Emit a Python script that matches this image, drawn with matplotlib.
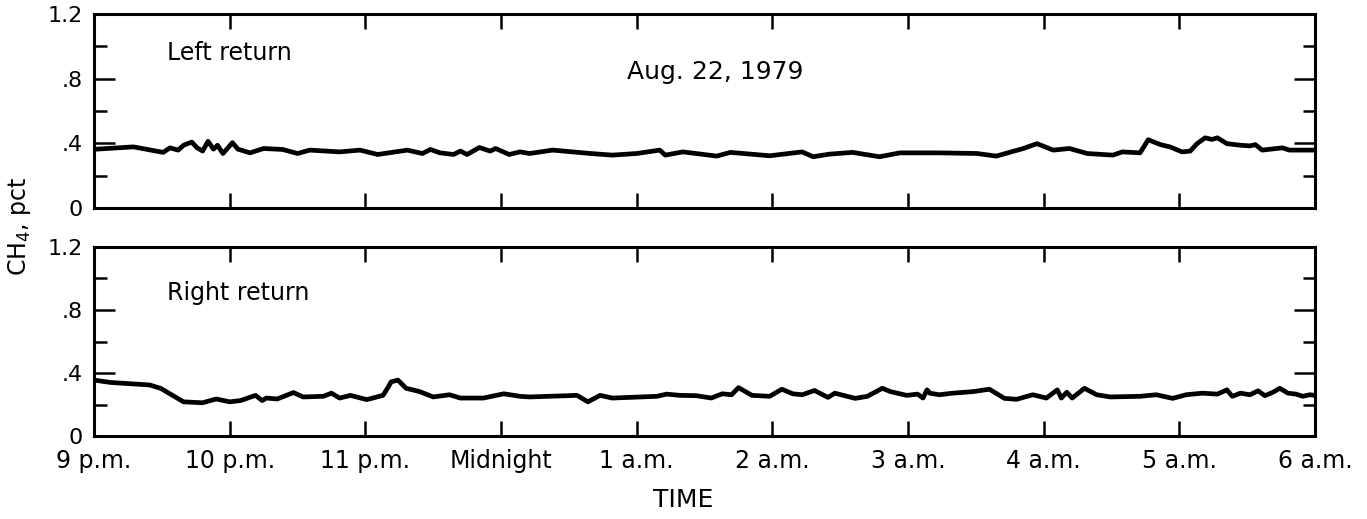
import matplotlib
matplotlib.use("Agg")
import matplotlib.pyplot as plt
from matplotlib.ticker import FixedLocator, MultipleLocator

# hours after 9 p.m.
left_hours = [0, 0.02, 0.29, 0.51, 0.56, 0.62, 0.66, 0.72, 0.76, 0.80, 0.84, 0.88, 0.91, 0.95,
              1.02, 1.06, 1.15, 1.25, 1.39, 1.50, 1.59, 1.81, 1.96, 2.09, 2.31, 2.42, 2.48, 2.55,
              2.65, 2.70, 2.75, 2.84, 2.92, 2.96, 3.06, 3.14, 3.21, 3.38, 3.66, 3.82, 4.00, 4.17,
              4.21, 4.34, 4.59, 4.69, 4.98, 5.22, 5.30, 5.42, 5.59, 5.79, 5.94, 6.23, 6.51, 6.65,
              6.85, 6.95, 7.07, 7.19, 7.32, 7.51, 7.58, 7.71, 7.77, 7.86, 7.93, 8.02, 8.08, 8.13,
              8.19, 8.24, 8.28, 8.35, 8.45, 8.52, 8.56, 8.61, 8.76, 8.81, 9.0]
left_pct = [0.364, 0.364, 0.378, 0.344, 0.372, 0.358, 0.388, 0.408, 0.372, 0.352, 0.412, 0.364,
            0.388, 0.337, 0.404, 0.364, 0.341, 0.368, 0.362, 0.337, 0.358, 0.347, 0.358, 0.331,
            0.358, 0.337, 0.362, 0.341, 0.331, 0.352, 0.331, 0.374, 0.352, 0.368, 0.331, 0.347,
            0.337, 0.358, 0.337, 0.327, 0.337, 0.358, 0.327, 0.347, 0.321, 0.344, 0.323, 0.347,
            0.317, 0.333, 0.344, 0.317, 0.341, 0.341, 0.337, 0.321, 0.368, 0.398, 0.358, 0.368,
            0.337, 0.327, 0.347, 0.341, 0.422, 0.392, 0.378, 0.347, 0.352, 0.398, 0.434, 0.424,
            0.434, 0.398, 0.388, 0.384, 0.392, 0.358, 0.372, 0.358, 0.358]

right_hours = [0.0, 0.12, 0.41, 0.49, 0.66, 0.80, 0.90, 1.00, 1.08, 1.19, 1.24, 1.27, 1.35, 1.47,
               1.54, 1.69, 1.75, 1.81, 1.89, 2.01, 2.13, 2.17, 2.19, 2.24, 2.30, 2.40, 2.50, 2.62,
               2.70, 2.87, 3.02, 3.14, 3.21, 3.56, 3.64, 3.73, 3.82, 4.15, 4.22, 4.32, 4.44, 4.55,
               4.63, 4.70, 4.75, 4.85, 4.98, 5.07, 5.15, 5.22, 5.31, 5.41, 5.46, 5.61, 5.70, 5.81,
               5.87, 5.99, 6.07, 6.11, 6.14, 6.16, 6.23, 6.33, 6.48, 6.60, 6.71, 6.80, 6.92, 7.02,
               7.10, 7.13, 7.17, 7.21, 7.30, 7.39, 7.49, 7.71, 7.83, 7.95, 8.05, 8.17, 8.28, 8.35,
               8.39, 8.45, 8.52, 8.58, 8.63, 8.69, 8.74, 8.80, 8.86, 8.91, 8.96, 9.0]
right_pct = [0.355, 0.340, 0.324, 0.303, 0.217, 0.211, 0.235, 0.217, 0.225, 0.258, 0.225, 0.241,
             0.235, 0.276, 0.248, 0.252, 0.272, 0.241, 0.258, 0.231, 0.258, 0.313, 0.344, 0.355,
             0.303, 0.282, 0.248, 0.262, 0.241, 0.241, 0.268, 0.252, 0.248, 0.258, 0.217, 0.258,
             0.241, 0.252, 0.266, 0.258, 0.256, 0.241, 0.268, 0.262, 0.307, 0.258, 0.252, 0.297,
             0.268, 0.262, 0.289, 0.245, 0.272, 0.239, 0.252, 0.303, 0.282, 0.258, 0.266, 0.241,
             0.293, 0.272, 0.262, 0.272, 0.282, 0.297, 0.239, 0.233, 0.262, 0.241, 0.293, 0.241,
             0.278, 0.241, 0.303, 0.262, 0.248, 0.252, 0.262, 0.239, 0.262, 0.272, 0.266, 0.293,
             0.252, 0.272, 0.262, 0.287, 0.256, 0.278, 0.303, 0.272, 0.266, 0.252, 0.262, 0.258]

time_ticks = [0, 1, 2, 3, 4, 5, 6, 7, 8, 9]
time_labels = ["9 p.m.", "10 p.m.", "11 p.m.", "Midnight", "1 a.m.", "2 a.m.",
               "3 a.m.", "4 a.m.", "5 a.m.", "6 a.m."]
pct_ticks = [0, 0.4, 0.8, 1.2]
pct_labels = ["0", ".4", ".8", "1.2"]

plt.rcParams["font.family"] = ["DejaVu Sans"]
fig = plt.figure(figsize=(13.67, 5.19), dpi=100)
ax1 = fig.add_axes([0.0688, 0.5992, 0.8932, 0.374])
ax2 = fig.add_axes([0.0688, 0.1599, 0.8932, 0.3642])

for ax, hrs, pct in [(ax1, left_hours, left_pct), (ax2, right_hours, right_pct)]:
    ax.plot(hrs, pct, color="black", lw=3.4, solid_joinstyle="round", solid_capstyle="round")
    ax.set_xlim(0, 9)
    ax.set_ylim(0, 1.2)
    for s in ax.spines.values():
        s.set_linewidth(2.2)
    ax.xaxis.set_major_locator(FixedLocator(time_ticks))
    ax.yaxis.set_major_locator(FixedLocator(pct_ticks))
    ax.yaxis.set_minor_locator(MultipleLocator(0.2))
    ax.set_yticklabels(pct_labels)
    ax.tick_params(axis="x", which="major", direction="in", top=True, length=11, width=1.8)
    ax.tick_params(axis="y", which="major", direction="in", right=True, length=15, width=1.8,
                   labelsize=16, pad=8)
    ax.tick_params(axis="y", which="minor", direction="in", right=True, length=9, width=1.8)

ax1.set_xticklabels([])
ax2.set_xticklabels(time_labels)
ax2.tick_params(axis="x", labelsize=17, pad=9)

ax1.text(0.06, 0.80, "Left return", transform=ax1.transAxes, fontsize=17, va="center")
ax1.text(0.509, 0.70, "Aug. 22, 1979", transform=ax1.transAxes, fontsize=18,
         ha="center", va="center")
ax2.text(0.06, 0.757, "Right return", transform=ax2.transAxes, fontsize=17, va="center")

fig.text(0.5, 0.037, "TIME", ha="center", va="center", fontsize=18)
fig.text(0.014, 0.565, "CH$_4$, pct", rotation=90, ha="center", va="center", fontsize=17)

fig.savefig("out.png", dpi=100)
